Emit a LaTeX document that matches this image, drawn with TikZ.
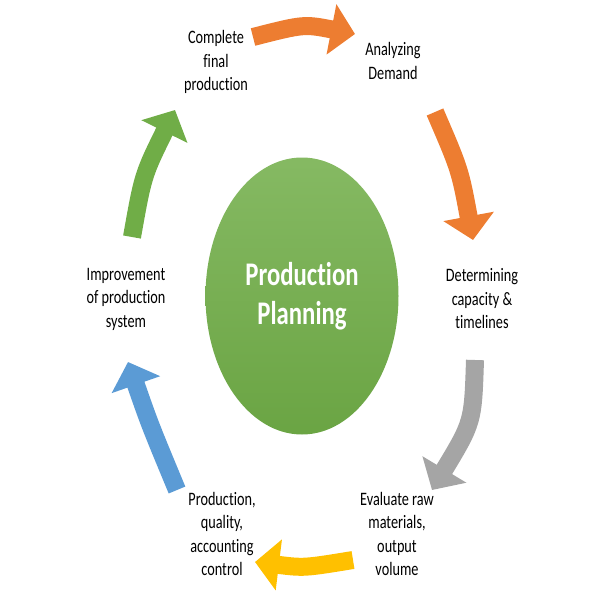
\documentclass[tikz,border=0pt]{standalone}
\usepackage{fontspec}
\setmainfont{Carlito}[FakeStretch=0.75,Ligatures=NoCommon]
\usetikzlibrary{arrows.meta,shapes.geometric}

\definecolor{plorange}{HTML}{ED7D31}
\definecolor{plgray}{HTML}{A5A5A5}
\definecolor{plyellow}{HTML}{FFC000}
\definecolor{plblue}{HTML}{5B9BD5}
\definecolor{plgreen}{HTML}{70AD47}

\begin{document}
\begin{tikzpicture}
	[x=1pt,y=-1pt,
	 lbl/.style={align=center,font=\fontsize{19}{23.5}\selectfont},
	 cyc/.style={line width=18pt,draw=#1,-{Triangle[width=50pt,length=24pt]}}]
	\useasboundingbox (0,0) rectangle (600,600);
	\node[ellipse,minimum width=193pt,minimum height=277pt,top color=plgreen!85!white,bottom color=plgreen!95!black,
		text=white,align=center,font=\bfseries\fontsize{33}{39}\selectfont] (hub) at (302,296) {Production\\Planning};
	\node[lbl] (s1) at (216,62) {Complete\\final\\production};
	\node[lbl] (s2) at (393,61) {Analyzing\\Demand};
	\node[lbl] (s3) at (482,299) {Determining\\capacity \&\\timelines};
	\node[lbl] (s4) at (397,534) {Evaluate raw\\materials,\\output\\volume};
	\node[lbl] (s5) at (222,534) {Production,\\quality,\\accounting\\control};
	\node[lbl] (s6) at (126,299) {Improvement\\of production\\system};
	
	\coordinate (t1) at (253,37);  \coordinate (h1) at (355,34);
	\coordinate (t2) at (435,112); \coordinate (h2) at (473,240);
	\coordinate (t3) at (475,360); \coordinate (h3) at (432,490);
	\coordinate (t4) at (353,560); \coordinate (h4) at (255,562);
	\coordinate (t5) at (177,490); \coordinate (h5) at (128,362);
	\coordinate (t6) at (132,237); \coordinate (h6) at (175,110);
	
	\draw[cyc=plorange] (t1) .. controls (304,24) .. (h1);
	\draw[cyc=plorange] (t2) .. controls (460,170) .. (h2);
	\draw[cyc=plgray] (t3) .. controls (473,422) .. (h3);
	\draw[cyc=plyellow] (t4) .. controls (304,568) .. (h4);
	\draw[cyc=plblue] (t5) .. controls (150,425) .. (h5);
	\draw[cyc=plgreen] (t6) .. controls (143,175) .. (h6);
\end{tikzpicture}
\end{document}
